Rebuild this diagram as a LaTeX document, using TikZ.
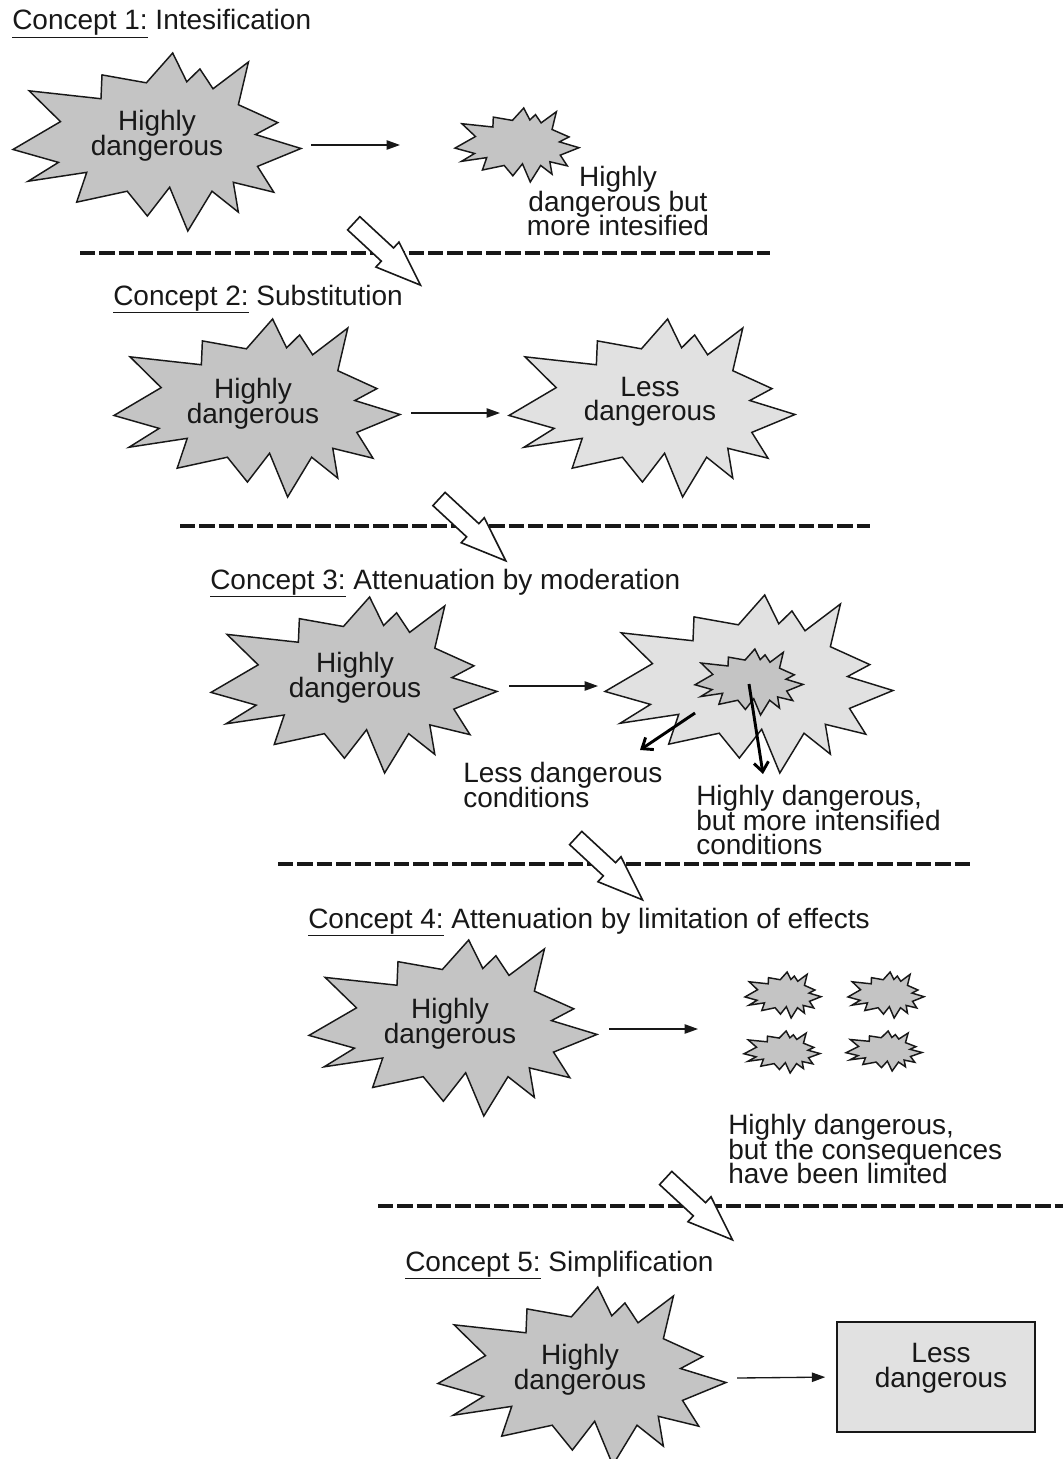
\documentclass[tikz,border=0pt]{standalone}
\usepackage{fontspec}
\setmainfont{Liberation Sans}
\usetikzlibrary{arrows.meta}
\definecolor{bdark}{RGB}{196,196,196}
\definecolor{blight}{RGB}{225,225,225}
\definecolor{ink}{RGB}{24,24,24}
\newcommand\diagfont{\fontsize{21}{18.4}\selectfont\lineskiplimit=-30pt\relax\lineskip=0pt\relax}
\tikzset{
  burst/.pic={\path[pic actions] (-1,0.084) -- (-0.670,-0.229) -- (-0.888,-0.575) -- (-0.389,-0.486)
     -- (-0.382,-0.754) -- (-0.074,-0.665) -- (0.109,-1.0) -- (0.207,-0.676) -- (0.298,-0.821)
     -- (0.389,-0.598) -- (0.635,-0.899) -- (0.565,-0.419) -- (0.839,-0.218) -- (0.684,-0.084)
     -- (1.0,0.073) -- (0.698,0.274) -- (0.811,0.564) -- (0.530,0.453) -- (0.565,0.788)
     -- (0.382,0.553) -- (0.214,1.0) -- (0.088,0.508) -- (-0.067,0.832) -- (-0.207,0.553)
     -- (-0.558,0.676) -- (-0.488,0.341) -- (-0.895,0.441) -- (-0.684,0.229) -- cycle;},
  hollowarrow/.pic={\path[pic actions] (0,-9) -- (46,-9) -- (46,-17) -- (91,0) -- (46,17) -- (46,9) -- (0,9) -- cycle;},
  burstline/.style={draw=ink, line width=1.1pt, line join=miter},
  thinarrow/.style={draw=ink, line width=1pt, -{Triangle[length=10pt,width=7pt]}},
  thickarrow/.style={draw=black, line width=2.2pt, -{Straight Barb[length=7pt,width=11pt]}},
  sepline/.style={draw=ink, line width=2.3pt, dash pattern=on 11.5pt off 3pt},
  hollow/.style={draw=ink, line width=1.2pt, fill=white, line join=miter},
  lbl/.style={align=center, inner sep=0pt},
  lbll/.style={align=left, inner sep=0pt, anchor=west},
  ttl/.style={anchor=base west, inner sep=0pt},
  rectbox/.style={draw=ink, fill=blight, line width=1.1pt, minimum width=148.5pt, minimum height=82.5pt, inner sep=0pt}
}
\begin{document}
\begin{tikzpicture}[x=0.75pt, y=-0.75pt, every node/.style={font=\diagfont, text=ink}]
\clip (0,0) rectangle (1063,1459);
\fill[white] (0,0) rectangle (1063,1459);

% ---------- separators ----------
\coordinate (s1a) at (80,253);   \coordinate (s1b) at (770,253);
\coordinate (s2a) at (180,526);  \coordinate (s2b) at (870,526);
\coordinate (s3a) at (278,864);  \coordinate (s3b) at (970,864);
\coordinate (s4a) at (378,1206); \coordinate (s4b) at (1063,1206);
\draw[sepline] (s1a) -- (s1b);
\draw[sepline] (s2a) -- (s2b);
\draw[sepline] (s3a) -- (s3b);
\draw[sepline] (s4a) -- (s4b);

% ---------- hollow step arrows ----------
\pic[hollow, rotate=-42.8] (h1) at (353.7,223.3) {hollowarrow};
\pic[hollow, rotate=-42.8] (h2) at (439,499) {hollowarrow};
\pic[hollow, rotate=-42.8] (h3) at (575.7,838) {hollowarrow};
\pic[hollow, rotate=-42.8] (h4) at (665.7,1178) {hollowarrow};

% ---------- Concept 1 ----------
\node[ttl] (c1) at (12,30) {\underline{Concept 1:} Intesification};
\pic[burstline, fill=bdark, xscale=144, yscale=89] (b1) at (157,142) {burst};
\node[lbl] (l1a) at (157,136) {Highly\\dangerous};
\coordinate (a1s) at (311,145); \coordinate (a1e) at (400,145);
\draw[thinarrow] (a1s) -- (a1e);
\pic[burstline, fill=bdark, xscale=62, yscale=37] (b1s) at (517,145) {burst};
\node[lbl] (l1b) at (618,201) {Highly\\dangerous but\\more intesified};

% ---------- Concept 2 ----------
\node[ttl] (c2) at (113,305) {\underline{Concept 2:} Substitution};
\pic[burstline, fill=bdark, xscale=143, yscale=89] (b2) at (257,408) {burst};
\node[lbl] (l2a) at (253,404) {Highly\\dangerous};
\coordinate (a2s) at (411,413); \coordinate (a2e) at (500,413);
\draw[thinarrow] (a2s) -- (a2e);
\pic[burstline, fill=blight, xscale=143, yscale=89] (b2r) at (652,408) {burst};
\node[lbl] (l2b) at (650,402) {Less\\dangerous};

% ---------- Concept 3 ----------
\node[ttl] (c3) at (210,589) {\underline{Concept 3:} Attenuation by moderation};
\pic[burstline, fill=bdark, xscale=143, yscale=88] (b3) at (354,685) {burst};
\node[lbl] (l3a) at (355,678) {Highly\\dangerous};
\coordinate (a3s) at (509,686); \coordinate (a3e) at (598,686);
\draw[thinarrow] (a3s) -- (a3e);
\pic[burstline, fill=blight, xscale=144, yscale=89] (b3r) at (749,684) {burst};
\pic[burstline, fill=bdark, xscale=54, yscale=33] (b3i) at (749,682) {burst};
\coordinate (k1s) at (695,713); \coordinate (k1e) at (640,750);
\coordinate (k2s) at (749,684); \coordinate (k2e) at (763,774);
\draw[thickarrow] (k1s) -- (k1e);
\draw[thickarrow] (k2s) -- (k2e);
\node[lbll] (l3b) at (463,785) {Less dangerous\\conditions};
\node[lbll] (l3c) at (696,820) {Highly dangerous,\\but more intensified\\conditions};

% ---------- Concept 4 ----------
\node[ttl] (c4) at (308,928) {\underline{Concept 4:} Attenuation by limitation of effects};
\pic[burstline, fill=bdark, xscale=144, yscale=88] (b4) at (453,1028) {burst};
\node[lbl] (l4a) at (450,1024) {Highly\\dangerous};
\coordinate (a4s) at (609,1029); \coordinate (a4e) at (698,1029);
\draw[thinarrow] (a4s) -- (a4e);
\pic[burstline, fill=bdark, xscale=38, yscale=23] (q1) at (783,995) {burst};
\pic[burstline, fill=bdark, xscale=38, yscale=23] (q2) at (886,995) {burst};
\pic[burstline, fill=bdark, xscale=38, yscale=21] (q3) at (782,1052) {burst};
\pic[burstline, fill=bdark, xscale=38, yscale=20] (q4) at (884,1051) {burst};
\node[lbll] (l4b) at (728,1149) {Highly dangerous,\\but the consequences\\have been limited};

% ---------- Concept 5 ----------
\node[ttl] (c5) at (405,1271) {\underline{Concept 5:} Simplification};
\pic[burstline, fill=bdark, xscale=144, yscale=89] (b5) at (582,1376) {burst};
\node[lbl] (l5a) at (580,1370) {Highly\\dangerous};
\node[rectbox] (r5) at (936,1377) {};
\node[lbl] (l5b) at (941,1368) {Less\\dangerous};
\coordinate (a5s) at (737,1378);
\draw[thinarrow, shorten >=8.25pt] (a5s) -- (r5.west);
\end{tikzpicture}
\end{document}
